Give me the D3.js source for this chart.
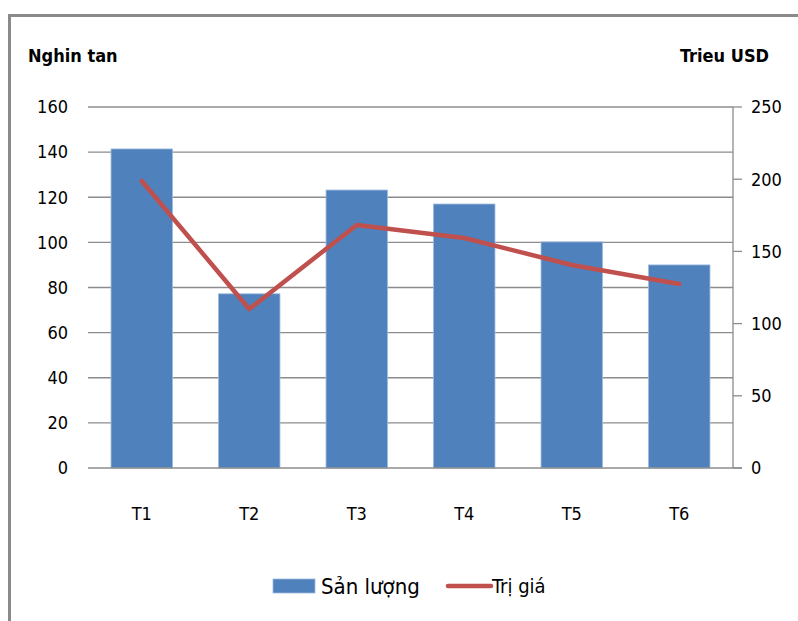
<!DOCTYPE html>
<html><head><meta charset="utf-8">
<script src="https://cdn.jsdelivr.net/npm/d3@7"></script>
<style>
body{margin:0;background:#fff;}
svg text{font-family:"Liberation Sans Narrow","DejaVu Sans Condensed","Open Sans",sans-serif;fill:#000;}
</style></head>
<body>
<svg id="chart" width="798" height="621"></svg>
<script>
const categories = ["T1","T2","T3","T4","T5","T6"];
const sanLuong = [141.4, 77.2, 123.2, 117.0, 100.2, 90.0];
const triGia = [198.8, 110.1, 168.3, 159.3, 140.6, 127.4];
const leftTicks = [0,20,40,60,80,100,120,140,160];
const rightTicks = [0,50,100,150,200,250];

const svg = d3.select("#chart");
const x0 = 88, x1 = 733, yTop = 107, yBot = 468;

// outer frame
svg.append("path").attr("d","M9.5,621 L9.5,15.5 L798,15.5")
  .attr("fill","none").attr("stroke","#8a8a8a").attr("stroke-width",3);

const x = d3.scaleBand().domain(categories).range([x0,x1]).paddingInner(0.4286).paddingOuter(0.2143);
const yL = d3.scaleLinear().domain([0,160]).range([yBot,yTop]);
const yR = d3.scaleLinear().domain([0,250]).range([yBot,yTop]);

// gridlines
svg.append("g").selectAll("line").data(leftTicks.filter(d=>d>0)).join("line")
  .attr("x1",x0).attr("x2",x1).attr("y1",d=>yL(d)).attr("y2",d=>yL(d))
  .attr("stroke","#8c8c8c").attr("stroke-width",1.3);

// left tick labels
svg.append("g").selectAll("text").data(leftTicks).join("text")
  .attr("x",68).attr("y",d=>yL(d)).attr("dy","0.35em").attr("text-anchor","end")
  .attr("font-size",18).text(d=>d);

// bars
svg.append("g").selectAll("rect").data(categories).join("rect")
  .attr("x",d=>x(d)).attr("width",x.bandwidth())
  .attr("y",(d,i)=>yL(sanLuong[i])).attr("height",(d,i)=>yBot-yL(sanLuong[i]))
  .attr("fill","#4F81BD").attr("stroke","#9db9dc").attr("stroke-width",0.8);

// x axis line
svg.append("line").attr("x1",x0).attr("x2",742).attr("y1",yBot).attr("y2",yBot)
  .attr("stroke","#8c8c8c").attr("stroke-width",1.3);

// right axis
const gR = svg.append("g").attr("transform",`translate(${x1},0)`);
gR.append("line").attr("x1",0).attr("x2",0).attr("y1",yTop).attr("y2",yBot)
  .attr("stroke","#8c8c8c").attr("stroke-width",1.3);
gR.selectAll("line.t").data(rightTicks).join("line").attr("class","t")
  .attr("x1",0).attr("x2",9).attr("y1",d=>yR(d)).attr("y2",d=>yR(d))
  .attr("stroke","#8c8c8c").attr("stroke-width",1.3);
gR.selectAll("text").data(rightTicks).join("text")
  .attr("x",18).attr("y",d=>yR(d)).attr("dy","0.35em")
  .attr("font-size",18).text(d=>d);

// x labels
svg.append("g").selectAll("text").data(categories).join("text")
  .attr("x",d=>x(d)+x.bandwidth()/2).attr("y",514).attr("dy","0.35em")
  .attr("text-anchor","middle").attr("font-size",18).text(d=>d);

// line
const line = d3.line().x((d,i)=>x(categories[i])+x.bandwidth()/2).y(d=>yR(d));
svg.append("path").datum(triGia).attr("d",line)
  .attr("fill","none").attr("stroke","#C0504D").attr("stroke-width",4.5)
  .attr("stroke-linecap","round").attr("stroke-linejoin","round");

// axis titles
svg.append("text").attr("x",28).attr("y",62).attr("font-size",18).attr("font-weight","bold").text("Nghin tan");
svg.append("text").attr("x",769).attr("y",62).attr("text-anchor","end").attr("font-size",18).attr("font-weight","bold").text("Trieu USD");

// legend
const lg = svg.append("g");
lg.append("rect").attr("x",273).attr("y",579).attr("width",42).attr("height",14).attr("fill","#4F81BD").attr("stroke","#9db9dc").attr("stroke-width",0.8);
lg.append("text").attr("x",321).attr("y",586).attr("dy","0.35em").attr("font-size",22).text("Sản lượng");
lg.append("line").attr("x1",448).attr("x2",491).attr("y1",586).attr("y2",586).attr("stroke","#C0504D").attr("stroke-width",4.5).attr("stroke-linecap","round");
lg.append("text").attr("x",492).attr("y",586).attr("dy","0.35em").attr("font-size",20).text("Trị giá");
</script>
</body></html>
